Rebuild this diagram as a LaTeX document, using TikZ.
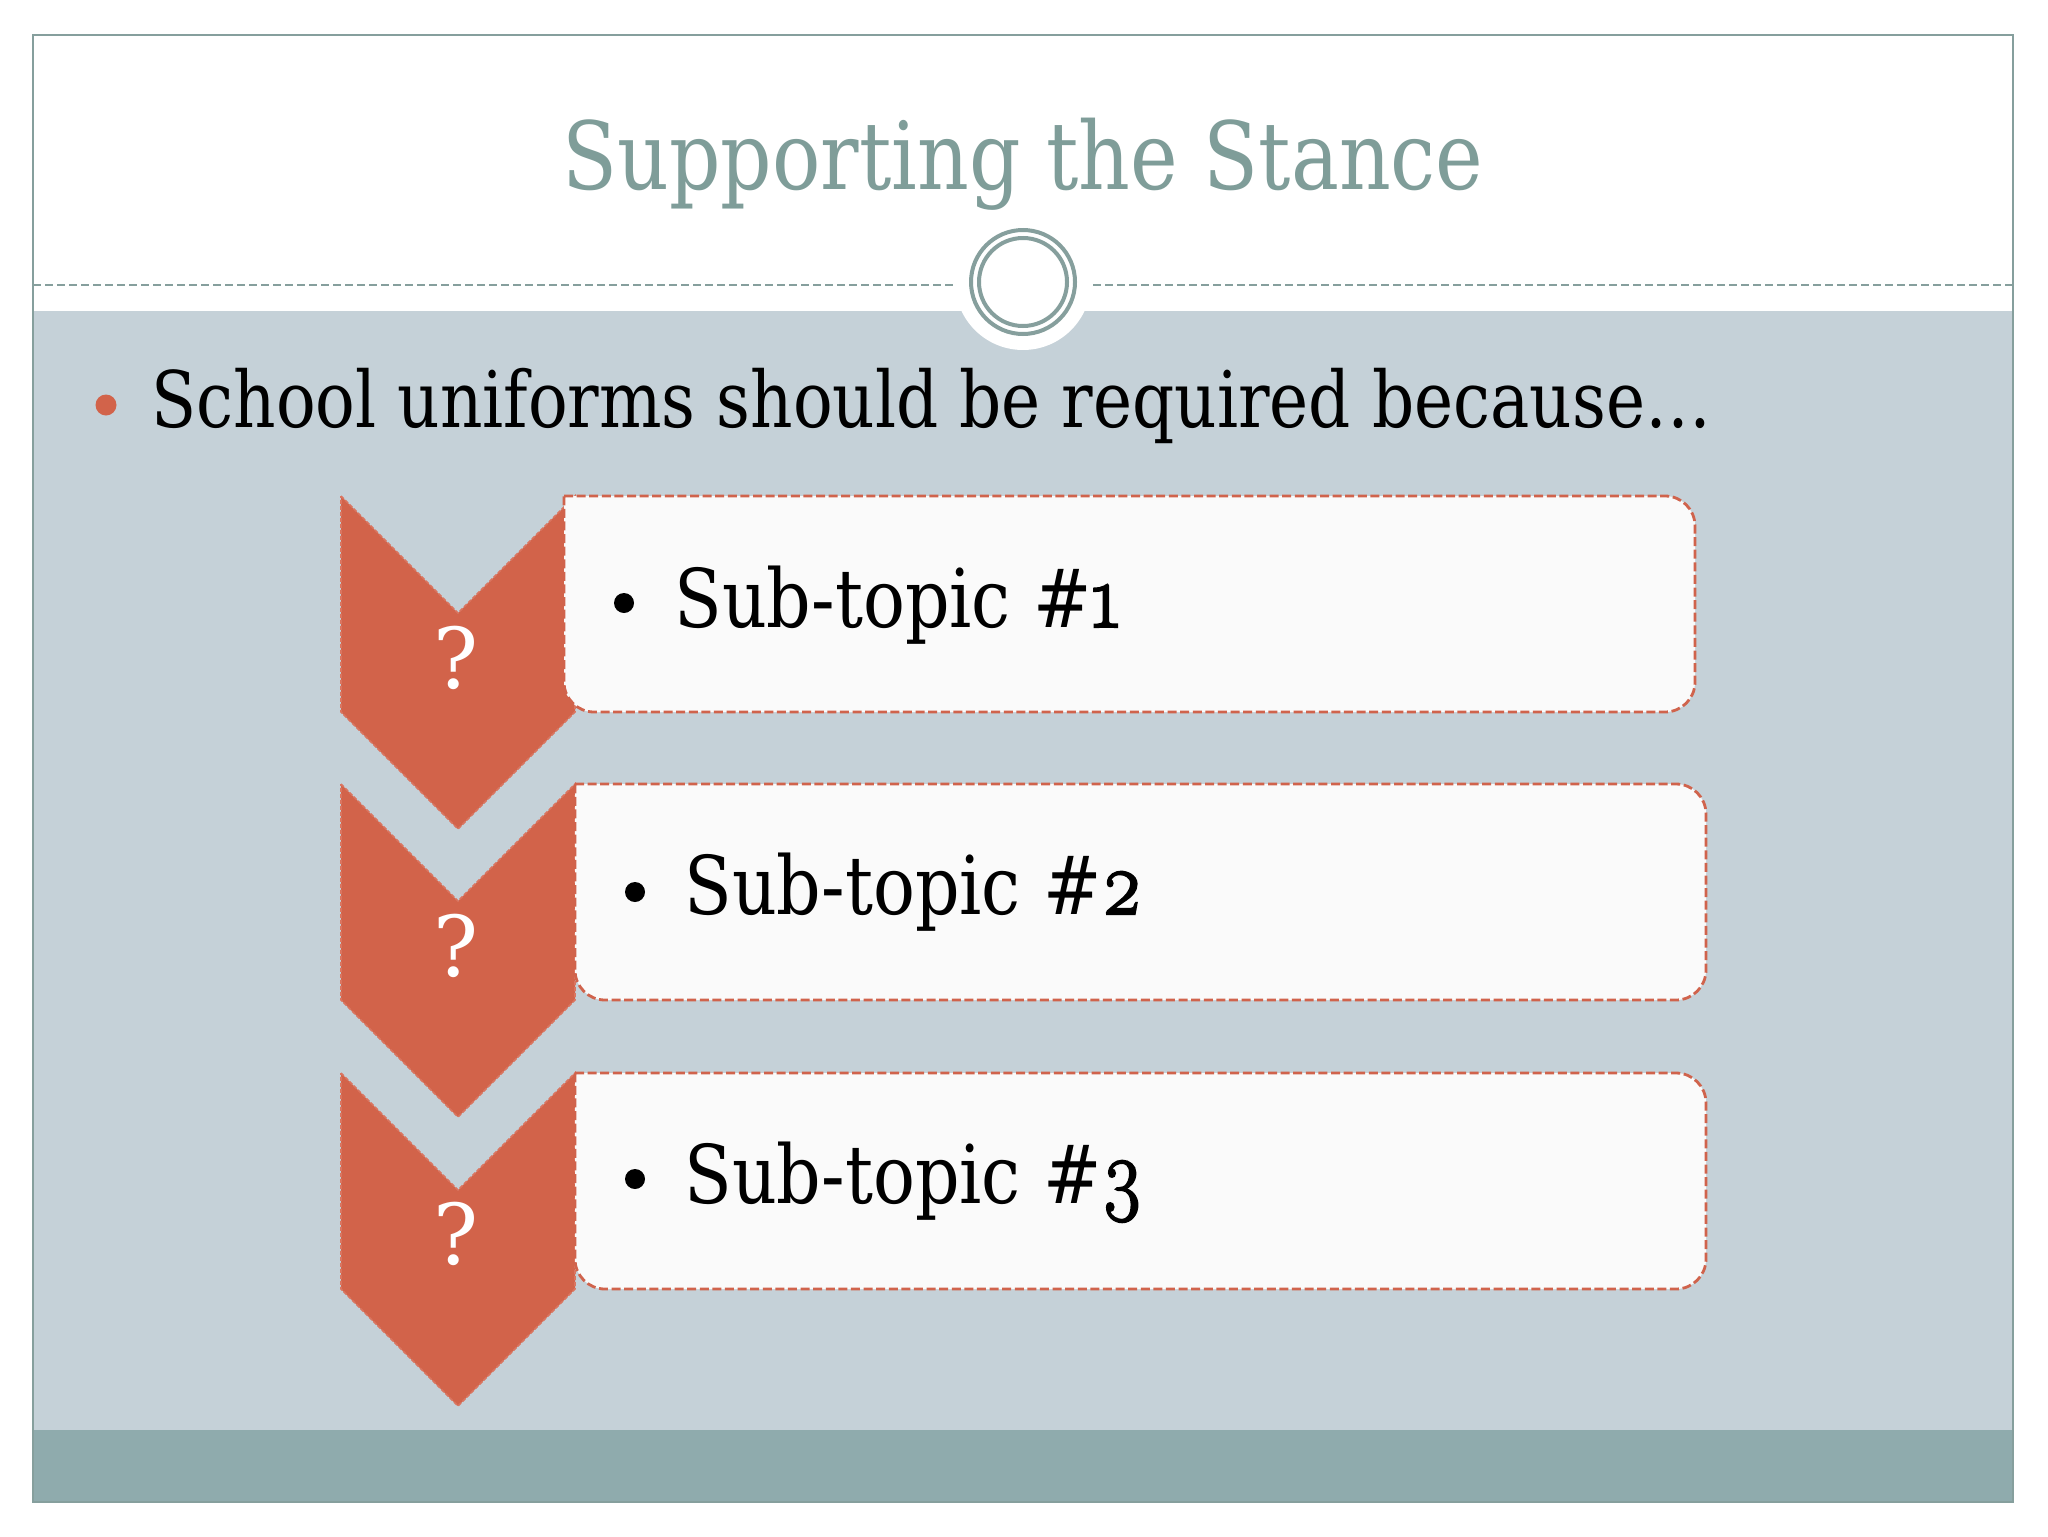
\documentclass[tikz,border=0pt]{standalone}
\usepackage{fontspec}
\setmainfont{DejaVu Serif}
\newfontfamily\lmos{Latin Modern Roman}[Numbers=OldStyle, FakeBold=2.5, Scale=1.12]
\definecolor{bodybg}{HTML}{C5D1D8}
\definecolor{bandbg}{HTML}{8FABAD}
\definecolor{frameline}{HTML}{869F9D}
\definecolor{titlecol}{HTML}{7F9D99}
\definecolor{chevorange}{HTML}{D2634A}
\definecolor{chevedge}{HTML}{DA7560}
\definecolor{boxfill}{HTML}{FAFAFA}
\definecolor{boxedge}{HTML}{D0634C}
\tikzset{
  chevron/.style={fill=chevorange, draw=chevedge, line width=0.8pt, dash pattern=on 2pt off 1pt},
  subbox/.style={fill=boxfill, draw=boxedge, line width=1.4pt, dash pattern=on 4.5pt off 1.8pt},
  subtext/.style={anchor=base west, inner sep=0pt, font=\fontsize{40.5}{48}\selectfont},
  qmark/.style={anchor=base, inner sep=0pt, text=white, font=\fontsize{42}{48}\selectfont}
}
\begin{document}
\begin{tikzpicture}[x=0.5pt,y=-0.5pt]
\useasboundingbox (0,0) rectangle (2048,1536);
\fill[white] (0,0) rectangle (2048,1536);
% background areas
\fill[bodybg] (33,311) rectangle (2013,1430);
\fill[bandbg] (33,1430) rectangle (2013,1502);
\draw[frameline, line width=1pt] (33,35) rectangle (2013,1502);
% header line and ring
\draw[frameline, line width=1.2pt, dash pattern=on 4pt off 2pt] (33,285) -- (953,285);
\draw[frameline, line width=1.2pt, dash pattern=on 4pt off 2pt] (1093,285) -- (2013,285);
\fill[white] (1023,282) circle[radius=68];
\draw[frameline, line width=2pt] (1023,282) circle[radius=52];
\draw[frameline, line width=2pt] (1023,282) circle[radius=44];
% title
\node[anchor=base, inner sep=0pt, text=titlecol, font=\fontsize{47}{56}\selectfont] (title) at (1023,189) {\scalebox{0.856}[1]{Supporting the Stance}};
% main bullet
\fill[chevorange] (106,405) circle[radius=10.5];
\node[anchor=base west, inner sep=0pt, font=\fontsize{39}{46}\selectfont] (lead) at (151,427) {\scalebox{0.846}[1]{School uniforms should be required because…}};
% chevrons
\foreach \t/\n in {496/1,784/2,1073/3}{
  \path[chevron] (341,\t) -- (458,\t+117) -- (575,\t) -- (575,\t+216) -- (458,\t+333) -- (341,\t+216) -- cycle;
}
% boxes
\draw[subbox] (564,496) [rounded corners=15pt] -- (1695,496) -- (1695,712) -- (564,712) [sharp corners] -- cycle;
\draw[subbox] (575,784) [rounded corners=15pt] -- (1706,784) -- (1706,1000) -- (575,1000) [sharp corners] -- cycle;
\draw[subbox] (575,1073) [rounded corners=15pt] -- (1706,1073) -- (1706,1289) -- (575,1289) [sharp corners] -- cycle;
% question marks
\node[qmark] (q1) at (456,688) {?};
\node[qmark] (q2) at (456,976) {?};
\node[qmark] (q3) at (456,1264) {?};
% sub-topic bullets and texts
\fill[black] (624,603) circle[radius=10];
\fill[black] (635,892) circle[radius=10];
\fill[black] (635,1179) circle[radius=10];
\node[subtext] (s1) at (674,627) {\scalebox{0.86}[1]{Sub-topic \#{\lmos 1}}};
\node[subtext] (s2) at (684,914) {\scalebox{0.86}[1]{Sub-topic \#{\lmos 2}}};
\node[subtext] (s3) at (684,1203) {\scalebox{0.86}[1]{Sub-topic \#{\lmos 3}}};
\end{tikzpicture}
\end{document}
